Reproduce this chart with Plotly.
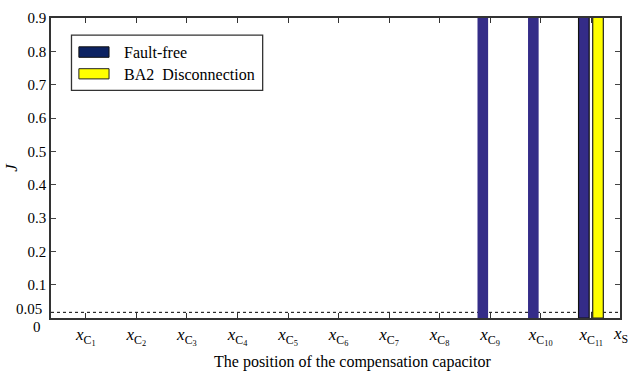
import plotly.graph_objects as go

# ---- data ----
positions = [1, 2, 3, 4, 5, 6, 7, 8, 9, 10, 11]
tick_labels = ["<i>x</i><sub>C<sub>1</sub></sub>", "<i>x</i><sub>C<sub>2</sub></sub>",
               "<i>x</i><sub>C<sub>3</sub></sub>", "<i>x</i><sub>C<sub>4</sub></sub>",
               "<i>x</i><sub>C<sub>5</sub></sub>", "<i>x</i><sub>C<sub>6</sub></sub>",
               "<i>x</i><sub>C<sub>7</sub></sub>", "<i>x</i><sub>C<sub>8</sub></sub>",
               "<i>x</i><sub>C<sub>9</sub></sub>", "<i>x</i><sub>C<sub>10</sub></sub>",
               "<i>x</i><sub>C<sub>11</sub></sub>"]
end_label = "<i>x</i><sub>S</sub>"
x_title = "The position of the compensation capacitor"
fault_free = [0, 0, 0, 0, 0, 0, 0, 0, 1.0, 1.0, 1.0]
ba2_disconnection = [0, 0, 0, 0, 0, 0, 0, 0, 0, 0, 1.0]
series_names = ["Fault-free", "BA2\u00a0 Disconnection"]
y_ticks = [0.1, 0.2, 0.3, 0.4, 0.5, 0.6, 0.7, 0.8, 0.9]
y_tick_text = ["0.1", "0.2", "0.3", "0.4", "0.5", "0.6", "0.7", "0.8", "0.9"]
threshold = 0.017   # drawn position of the 0.05 threshold line
threshold_label = "0.05"

BAR_BLUE = "#342C88"
LEG_BLUE = "#0C2262"
YELLOW = "#FFFF00"
FONT = "Liberation Serif"
X_RANGE = [0.31, 11.57]

fig = go.Figure()
fig.add_trace(go.Bar(
    x=positions, y=fault_free, width=0.21, offset=-0.25,
    marker=dict(color=BAR_BLUE,
                line=dict(color="#111111", width=[0]*10 + [1.2])),
    showlegend=False, name=series_names[0]))
fig.add_trace(go.Bar(
    x=positions, y=ba2_disconnection, width=0.21, offset=0.03,
    marker=dict(color=YELLOW,
                line=dict(color="#222222", width=[0]*10 + [1.2])),
    showlegend=False, name=series_names[1]))

# threshold line
fig.add_shape(type="line", xref="paper", x0=0, x1=1, yref="y", y0=threshold, y1=threshold,
              line=dict(color="black", width=1, dash="dot"), layer="below")

# manual legend
fig.add_shape(type="rect", xref="paper", yref="paper", x0=0.036, x1=0.372, y0=0.759, y1=0.943,
              line=dict(color="#333333", width=1.3), fillcolor="white")
fig.add_shape(type="rect", xref="paper", yref="paper", x0=0.049, x1=0.102, y0=0.869, y1=0.904,
              line=dict(color="#111111", width=1), fillcolor=LEG_BLUE)
fig.add_shape(type="rect", xref="paper", yref="paper", x0=0.049, x1=0.102, y0=0.797, y1=0.831,
              line=dict(color="#222222", width=1), fillcolor=YELLOW)
for name, yc in zip(series_names, [0.886, 0.813]):
    fig.add_annotation(xref="paper", yref="paper", x=0.124, y=yc, text=name, showarrow=False,
                       xanchor="left", yanchor="middle", font=dict(family=FONT, size=16, color="black"))

# y labels for 0 and 0.05
fig.add_annotation(xref="paper", yref="y", x=0, y=threshold, text=threshold_label, showarrow=False,
                   xanchor="right", yanchor="middle", xshift=-7, yshift=3,
                   font=dict(family=FONT, size=15, color="black"))
fig.add_annotation(xref="paper", yref="paper", x=0, y=0, text="0", showarrow=False,
                   xanchor="right", yanchor="middle", xshift=-8, yshift=-9,
                   font=dict(family=FONT, size=15, color="black"))
# end-of-axis label x_S
fig.add_annotation(xref="paper", yref="paper", x=1, y=0, text=end_label, showarrow=False,
                   xanchor="right", yanchor="top", xshift=9, yshift=-5, borderpad=0,
                   font=dict(family=FONT, size=17, color="black"))
# x-axis title
fig.add_annotation(xref="paper", yref="paper", x=0.53, y=0, text=x_title, showarrow=False,
                   xanchor="center", yanchor="middle", yshift=-44,
                   font=dict(family=FONT, size=16, color="black"))

fig.update_layout(
    width=632, height=373,
    margin=dict(l=51, r=11, t=10, b=55),
    paper_bgcolor="white", plot_bgcolor="white",
    barmode="overlay",
    font=dict(family=FONT, size=15, color="black"),
    xaxis=dict(range=X_RANGE, tickmode="array", tickvals=positions,
               ticktext=tick_labels,
               ticks="inside", ticklen=5, tickcolor="#333333", mirror="ticks",
               showline=True, linecolor="#333333", linewidth=1.5, showgrid=False, zeroline=False,
               tickfont=dict(family=FONT, size=17)),
    yaxis=dict(range=[0, 0.9], tickmode="array", tickvals=y_ticks, ticktext=y_tick_text,
               ticks="inside", ticklen=5, tickcolor="#444444", mirror="ticks",
               showline=True, linecolor="#333333", linewidth=1.5, showgrid=False, zeroline=False,
               tickfont=dict(family=FONT, size=15),
               title=dict(text="<i>J</i>", font=dict(family=FONT, size=17), standoff=6)),
)

fig.write_html("out.html", config={"displayModeBar": False},
               post_script="document.body.style.margin='0';document.body.style.overflow='hidden';")
